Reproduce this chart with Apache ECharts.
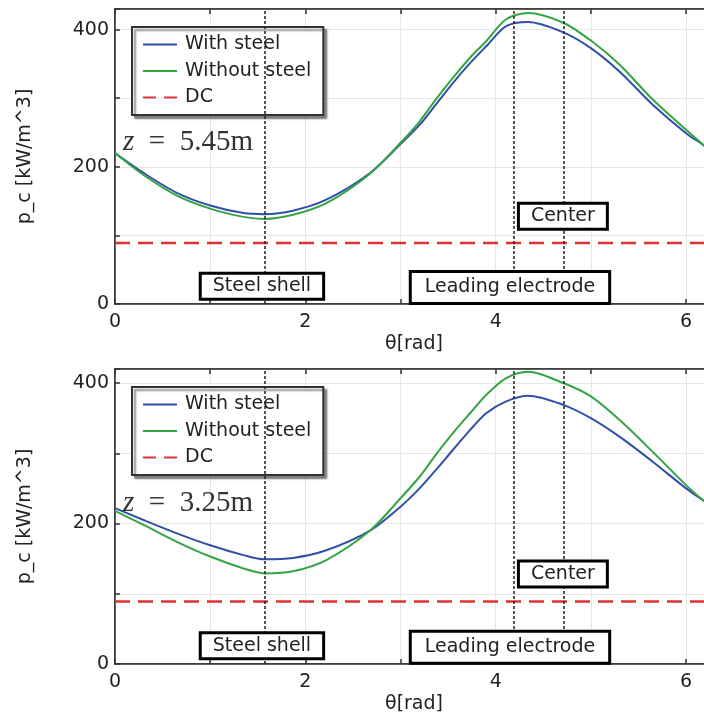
<!DOCTYPE html>
<html>
<head>
<meta charset="utf-8">
<script src="https://cdn.jsdelivr.net/npm/echarts@6/dist/echarts.min.js"></script>
<style>
  html, body { margin: 0; padding: 0; background: #fff; }
  #chart { width: 704px; height: 713px; }
</style>
</head>
<body>
<div id="chart"></div>
<script>
    'use strict';

    // theta samples [rad]
    var theta = [0, 0.3, 0.65, 1.0, 1.35, 1.57, 1.87, 2.22, 2.68, 3.0, 3.2, 3.37, 3.55, 3.73, 3.9, 4.11, 4.34, 4.71, 5.0, 5.3, 5.65, 6.0, 6.18, 6.283];

    // z = 5.45m
    var withSteelTop    = [220, 191, 162, 143.5, 132.5, 131, 136, 152, 191, 233, 261, 290.5, 322, 351, 375.6, 405, 411, 396, 373, 339, 290.5, 249, 232, 221];
    var withoutSteelTop = [220, 188, 158, 139, 127, 124, 130, 147, 190, 235, 266, 298, 329.5, 359, 383, 415, 424, 410, 384, 349, 298, 254, 232, 220];
    // z = 3.25m
    var withSteelBot    = [222, 205, 186, 169, 155, 149, 151, 162, 190, 224, 250, 276, 304.7, 333, 357, 374, 382, 369, 350, 323.7, 288, 250, 233, 224];
    var withoutSteelBot = [218, 198, 174, 153, 136, 129, 132, 148, 190, 236, 266.6, 297.6, 328.6, 357, 383, 407, 416, 400, 381, 347.6, 302, 254.7, 233, 222];

    var dcLevel = [89, 89];
    var zLabels = ['5.45m', '3.25m'];

    var xLabelTicks = [0, 2, 4, 6];
    var yLabelTicks = [0, 200, 400];
    var yMax = [430, 420];

    // vertical markers: steel shell, leading electrode, center
    var markerTheta = [Math.PI / 2, 4 * Math.PI / 3, 3 * Math.PI / 2];
    var boxLabels = [
        { name: 'Steel shell', x: 1.544, y: 26 },
        { name: 'Leading electrode', x: 4.15, y: 24 },
        { name: 'Center', x: 4.706, y: 128 }
    ];

    var FONT = 'DejaVu Sans';
    var TXT = '#222';
    var ICON_SOLID = 'path://M0,0H34V2H0Z';
    var ICON_DASH = 'path://M0,0H13V2H0Z M21,0H34V2H21Z';

    function zip(xs, ys) {
        var out = [];
        for (var i = 0; i < xs.length; i++) out.push([xs[i], ys[i]]);
        return out;
    }

    var chart = echarts.init(document.getElementById('chart'));

    var gridTops = [9, 369];
    var grids = [], xAxes = [], yAxes = [], legends = [], series = [];
    var panels = [
        { ws: withSteelTop, wo: withoutSteelTop },
        { ws: withSteelBot, wo: withoutSteelBot }
    ];

    for (var g = 0; g < 2; g++) {
        grids.push({
            left: 115, top: gridTops[g], width: 598, height: 295,
            outerBoundsMode: 'none',
            show: true,
            borderColor: '#333',
            borderWidth: 1.5,
            backgroundColor: '#fff'
        });

        xAxes.push({
            gridIndex: g,
            type: 'value',
            min: 0,
            max: 2 * Math.PI,
            interval: 1,
            name: 'θ[rad]',
            nameLocation: 'middle',
            nameGap: 31,
            nameTextStyle: { fontFamily: FONT, fontSize: 19, color: TXT },
            axisLine: { show: true, lineStyle: { color: '#333', width: 1.5 } },
            axisTick: { show: true, inside: true, length: 5, lineStyle: { color: '#333', width: 1.5 } },
            axisLabel: {
                margin: 9,
                fontFamily: FONT, fontSize: 19, color: TXT,
                formatter: function (v) { return xLabelTicks.indexOf(v) >= 0 ? String(v) : ''; }
            },
            splitLine: { show: true, lineStyle: { color: '#e6e6e6', width: 1 } }
        });
        // mirror axis on top for inward ticks
        xAxes.push({
            gridIndex: g,
            type: 'value',
            position: 'top',
            min: 0,
            max: 2 * Math.PI,
            interval: 1,
            axisLine: { show: true, lineStyle: { color: '#333', width: 1.5 } },
            axisTick: { show: true, inside: true, length: 5, lineStyle: { color: '#333', width: 1.5 } },
            axisLabel: { show: false },
            splitLine: { show: false }
        });

        yAxes.push({
            gridIndex: g,
            type: 'value',
            min: 0,
            max: yMax[g],
            interval: 100,
            name: 'p_c [kW/m^3]',
            nameLocation: 'middle',
            nameRotate: 90,
            nameGap: 80,
            nameTextStyle: { fontFamily: FONT, fontSize: 19, color: TXT },
            axisLine: { show: true, lineStyle: { color: '#333', width: 1.5 } },
            axisTick: { show: true, inside: true, length: 5, lineStyle: { color: '#333', width: 1.5 } },
            axisLabel: {
                margin: 6,
                fontFamily: FONT, fontSize: 19, color: TXT,
                formatter: function (v) { return yLabelTicks.indexOf(v) >= 0 ? String(v) : ''; }
            },
            splitLine: { show: true, lineStyle: { color: '#e6e6e6', width: 1 } }
        });

        legends.push({
            orient: 'vertical',
            left: 132,
            top: g === 0 ? 27 : 387,
            data: [
                { name: 'With steel', icon: ICON_SOLID },
                { name: 'Without steel', icon: ICON_SOLID },
                { name: 'DC', icon: ICON_DASH }
            ],
            itemWidth: 34,
            itemHeight: 2.5,
            itemGap: 7.5,
            padding: [8, 12, 8, 11],
            backgroundColor: '#fff',
            borderColor: '#333',
            borderWidth: 2,
            borderRadius: 0,
            shadowColor: 'rgba(0,0,0,0.45)',
            shadowBlur: 2,
            shadowOffsetX: 3,
            shadowOffsetY: 3,
            selectedMode: false,
            textStyle: { fontFamily: FONT, fontSize: 19, color: TXT, lineHeight: 19, padding: [0, 0, 0, 3] }
        });

        var xi = g * 2;
        series.push({
            name: 'With steel',
            type: 'line',
            xAxisIndex: xi, yAxisIndex: g,
            data: zip(theta, panels[g].ws),
            smooth: 0.3,
            showSymbol: false, symbol: 'none',
            lineStyle: { color: '#3050a8', width: 2 },
            itemStyle: { color: '#3050a8' },
            z: 3
        });
        series.push({
            name: 'Without steel',
            type: 'line',
            xAxisIndex: xi, yAxisIndex: g,
            data: zip(theta, panels[g].wo),
            smooth: 0.3,
            showSymbol: false, symbol: 'none',
            lineStyle: { color: '#34a444', width: 2 },
            itemStyle: { color: '#34a444' },
            z: 3
        });
        series.push({
            name: 'DC',
            type: 'line',
            xAxisIndex: xi, yAxisIndex: g,
            data: [[0, dcLevel[g]], [2 * Math.PI, dcLevel[g]]],
            showSymbol: false, symbol: 'none',
            lineStyle: { color: '#dd3333', width: 2.5, type: [15, 8] },
            itemStyle: { color: '#dd3333' },
            z: 2,
            markPoint: {
                symbol: 'rect',
                symbolSize: 0,
                silent: true,
                data: boxLabels.map(function (b) {
                    return {
                        name: b.name,
                        coord: [b.x, b.y],
                        label: {
                            show: true,
                            position: 'inside',
                            formatter: b.name,
                            fontFamily: FONT, fontSize: 19, color: TXT,
                            lineHeight: 19,
                            backgroundColor: '#fff',
                            borderColor: '#000',
                            borderWidth: 3,
                            padding: b.name === 'Leading electrode' ? [5, 13] : [2, 11]
                        }
                    };
                }).concat([{
                    name: 'z',
                    coord: [0.767, g === 0 ? 236 : 229],
                    label: {
                        show: true,
                        position: 'inside',
                        formatter: '{i|z}{n|  =  ' + zLabels[g] + '}',
                        rich: {
                            i: { fontFamily: 'Liberation Serif', fontStyle: 'italic', fontSize: 29, color: '#333' },
                            n: { fontFamily: 'Liberation Serif', fontSize: 29, color: '#333' }
                        }
                    }
                }])
            }
        });
        // vertical dotted guides, drawn above the boxes
        series.push({
            name: 'guides',
            type: 'line',
            xAxisIndex: xi, yAxisIndex: g,
            data: [],
            z: 6,
            markLine: {
                silent: true,
                symbol: ['none', 'none'],
                label: { show: false },
                lineStyle: { color: '#222', width: 1.5, type: [3, 2] },
                data: markerTheta.map(function (t) { return { xAxis: t }; })
            }
        });
    }

    var option = {
        backgroundColor: '#fff',
        animation: false,
        grid: grids,
        xAxis: xAxes,
        yAxis: yAxes,
        legend: legends,
        series: series
    };

    chart.setOption(option);
</script>
</body>
</html>
